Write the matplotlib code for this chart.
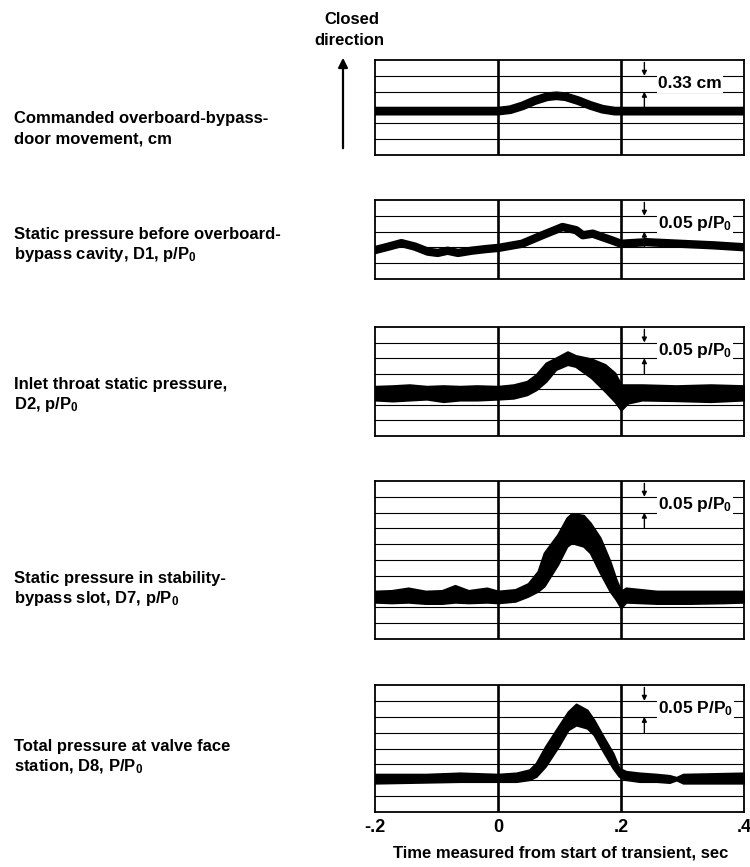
import matplotlib
matplotlib.use("Agg")
import matplotlib.pyplot as plt

plt.rcParams['font.family'] = ['Liberation Sans', 'DejaVu Sans']
plt.rcParams['font.weight'] = 'bold'
plt.rcParams['mathtext.fontset'] = 'custom'
plt.rcParams['mathtext.rm'] = 'Liberation Sans:bold'
plt.rcParams['mathtext.it'] = 'Liberation Sans:bold'
plt.rcParams['mathtext.bf'] = 'Liberation Sans:bold'

# ---- data (time in s; values relative to the pre-transient level) ----
# Commanded overboard-bypass-door movement, cm
door_t = [-0.20, -0.10, 0.00, 0.02, 0.04, 0.06, 0.08, 0.095, 0.11, 0.13, 0.15, 0.17, 0.19, 0.30, 0.40]
door_cm = [0.0, 0.0, 0.0, 0.03, 0.11, 0.22, 0.30, 0.32, 0.30, 0.22, 0.12, 0.04, 0.0, 0.0, 0.0]

# Static pressure before overboard-bypass cavity, D1, p/P0
d1_t = [-0.198, -0.178, -0.157, -0.135, -0.114, -0.098, -0.082, -0.065, -0.043, -0.021, 0.001,
        0.039, 0.072, 0.105, 0.127, 0.138, 0.154, 0.170, 0.185, 0.200, 0.241, 0.296, 0.351, 0.400]
d1_p = [0.000, 0.010, 0.021, 0.010, -0.006, -0.010, -0.003, -0.010, -0.003, 0.002, 0.006,
        0.019, 0.046, 0.072, 0.062, 0.046, 0.051, 0.040, 0.030, 0.019, 0.024, 0.019, 0.014, 0.008]

# Inlet throat static pressure, D2, p/P0 (upper / lower edge of trace band)
d2_t = [-0.200, -0.171, -0.144, -0.116, -0.089, -0.062, -0.034, 0.000, 0.025, 0.047, 0.062, 0.078,
        0.094, 0.113, 0.126, 0.152, 0.174, 0.190, 0.200, 0.211, 0.234, 0.290, 0.346, 0.400]
d2_hi = [0.022, 0.024, 0.027, 0.022, 0.024, 0.022, 0.024, 0.022, 0.027, 0.038, 0.060, 0.097,
         0.113, 0.133, 0.121, 0.110, 0.092, 0.065, 0.027, 0.027, 0.027, 0.024, 0.027, 0.024]
d2_lo = [-0.022, -0.025, -0.022, -0.019, -0.027, -0.022, -0.022, -0.019, -0.016, -0.005, 0.011, 0.038,
         0.076, 0.092, 0.086, 0.049, 0.006, -0.027, -0.054, -0.032, -0.022, -0.024, -0.027, -0.022]

# Static pressure in stability-bypass slot, D7, p/P0
d7_t = [-0.200, -0.173, -0.146, -0.118, -0.091, -0.070, -0.048, -0.018, 0.000, 0.028, 0.049, 0.065,
        0.075, 0.097, 0.112, 0.120, 0.139, 0.150, 0.166, 0.182, 0.192, 0.200, 0.208, 0.258, 0.312,
        0.367, 0.400]
d7_hi = [0.019, 0.021, 0.029, 0.019, 0.021, 0.037, 0.021, 0.029, 0.019, 0.024, 0.043, 0.082,
         0.140, 0.198, 0.251, 0.265, 0.259, 0.235, 0.188, 0.114, 0.056, 0.019, 0.029, 0.019, 0.019,
         0.019, 0.019]
d7_lo = [-0.016, -0.018, -0.016, -0.020, -0.020, -0.016, -0.018, -0.016, -0.018, -0.013, 0.003, 0.019,
         0.035, 0.103, 0.161, 0.172, 0.161, 0.140, 0.077, 0.019, -0.008, -0.034, -0.016, -0.020, -0.020,
         -0.018, -0.016]

# Total pressure at valve face station, D8, P/P0
d8_t = [-0.200, -0.117, -0.062, 0.000, 0.030, 0.051, 0.062, 0.077, 0.098, 0.114, 0.127, 0.145,
        0.156, 0.171, 0.187, 0.197, 0.208, 0.230, 0.258, 0.279, 0.290, 0.301, 0.400]
d8_hi = [0.013, 0.013, 0.017, 0.013, 0.017, 0.027, 0.048, 0.100, 0.163, 0.210, 0.234, 0.215,
         0.184, 0.132, 0.079, 0.032, 0.022, 0.017, 0.013, 0.009, 0.003, 0.013, 0.017]
d8_lo = [-0.015, -0.012, -0.010, -0.010, -0.010, -0.004, 0.006, 0.038, 0.100, 0.153, 0.168, 0.158,
         0.137, 0.085, 0.032, 0.006, -0.004, -0.010, -0.010, -0.013, -0.005, -0.015, -0.015]

x_ticks = [-0.2, 0.0, 0.2, 0.4]
x_tick_labels = ["-.2", "0", ".2", ".4"]

# ---- figure layout ----
W, H = 750, 867
fig = plt.figure(figsize=(W / 100, H / 100), dpi=100)

def px_axes(top, bottom, left=375, right=744):
    return fig.add_axes([left / W, 1 - bottom / H, (right - left) / W, (bottom - top) / H])

FS = 12
FS_SCALE = 12.5

def frame(ax, ndiv, base, unit, scale_text):
    ax.set_xlim(-0.2, 0.4)
    ax.set_ylim(-base * unit, (ndiv - base) * unit)
    for k in range(1, ndiv):
        ax.axhline((k - base) * unit, color='black', lw=0.8, zorder=1)
    for xv in (0.0, 0.2):
        ax.axvline(xv, color='black', lw=1.9, zorder=1)
    for s in ax.spines.values():
        s.set_linewidth(1.3)
    ax.set_yticks([])
    ax.set_xticks([])
    # scale marker: one grid division
    xa = 0.238
    y_top = (ndiv - base) * unit
    y1 = (ndiv - 1 - base) * unit
    y2 = (ndiv - 2 - base) * unit
    y3 = (ndiv - 3 - base) * unit
    arrow = dict(arrowstyle='-|>', color='black', lw=1.0, mutation_scale=7, shrinkA=0, shrinkB=0)
    ax.annotate('', xy=(xa, y1), xytext=(xa, y_top - 0.15 * unit), arrowprops=arrow, zorder=4)
    ax.annotate('', xy=(xa, y2), xytext=(xa, y3), arrowprops=arrow, zorder=4)
    ax.text(0.260, (y1 + y2) / 2, scale_text, fontsize=FS_SCALE, fontweight='bold', va='center',
            ha='left', zorder=5, bbox=dict(facecolor='white', edgecolor='none', pad=1.0))

# Panel 1: door movement
ax1 = px_axes(60, 155)
frame(ax1, 6, 2.77, 0.33, "0.33 cm")
ax1.plot(door_t, door_cm, color='black', lw=6.3, solid_capstyle='butt', zorder=3)

# Panel 2: D1
ax2 = px_axes(200, 279)
frame(ax2, 5, 1.85, 0.05, r"0.05 p/P$_0$")
ax2.plot(d1_t, d1_p, color='black', lw=6.0, solid_joinstyle='round', zorder=3)

# Panel 3: D2
ax3 = px_axes(327, 436)
frame(ax3, 7, 2.75, 0.05, r"0.05 p/P$_0$")
ax3.fill_between(d2_t, d2_lo, d2_hi, color='black', lw=1.5, edgecolor='black', zorder=3)

# Panel 4: D7
ax4 = px_axes(481, 639)
frame(ax4, 10, 2.65, 0.05, r"0.05 p/P$_0$")
ax4.fill_between(d7_t, d7_lo, d7_hi, color='black', lw=1.5, edgecolor='black', zorder=3)

# Panel 5: D8
ax5 = px_axes(685, 812)
frame(ax5, 8, 2.12, 0.05, r"0.05 P/P$_0$")
ax5.fill_between(d8_t, d8_lo, d8_hi, color='black', lw=1.5, edgecolor='black', zorder=3)
ax5.set_xticks(x_ticks)
ax5.set_xticklabels(x_tick_labels, fontsize=FS + 1, fontweight='bold')
ax5.tick_params(axis='x', length=0, pad=5)

fig.text(561 / W, 1 - 853 / H, "Time measured from start of transient, sec", fontsize=FS,
         fontweight='bold', ha='center', va='center')

# ---- left-hand labels ----
labels = [
    (("Commanded overboard-bypass-", "door movement, cm"), 117),
    (("Static pressure before overboard-", r"bypass cavity, D1, p/P$_0$"), 233),
    (("Inlet throat static pressure,", r"D2, p/P$_0$"), 383),
    (("Static pressure in stability-", r"bypass slot, D7, p/P$_0$"), 577),
    (("Total pressure at valve face", r"station, D8, P/P$_0$"), 745),
]
for (l1, l2), yc in labels:
    fig.text(14 / W, 1 - (yc + 6) / H, l1, fontsize=FS, fontweight='bold', ha='left', va='baseline')
    fig.text(14 / W, 1 - (yc + 26) / H, l2, fontsize=FS, fontweight='bold', ha='left', va='baseline')

fig.text(352 / W, 1 - 24 / H, "Closed", fontsize=FS, fontweight='bold', ha='center', va='baseline')
fig.text(349 / W, 1 - 45 / H, "direction", fontsize=FS, fontweight='bold', ha='center', va='baseline')
fig.patches.append(matplotlib.patches.FancyArrowPatch(
    (343 / W, 1 - 151 / H), (343 / W, 1 - 55 / H), transform=fig.transFigure,
    arrowstyle='-|>', mutation_scale=14, lw=1.6, color='black'))

fig.savefig("out.png", dpi=100)
